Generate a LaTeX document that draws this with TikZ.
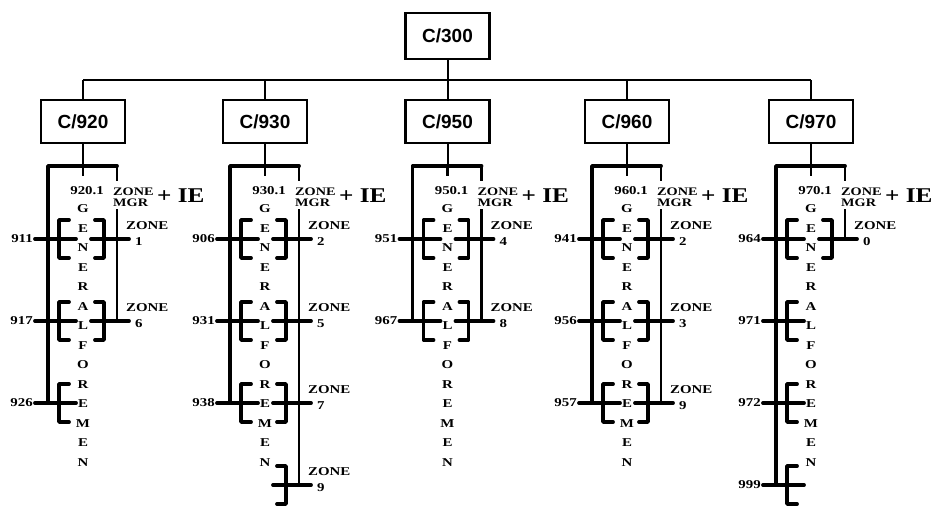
\documentclass[tikz,border=0pt]{standalone}
\usepackage{fontspec}
\setmainfont{Liberation Serif}
\newfontfamily\boxfont{Liberation Sans}
\newfontfamily\lblfont{Liberation Serif}[FakeStretch=1.24]
\newfontfamily\iefont{Liberation Serif}[FakeStretch=1.2]
\tikzset{
  x=1pt, y=-1pt,
  orgbox/.style={draw, line width=2.8pt, minimum width=84pt, minimum height=43pt, inner sep=0pt,
    font=\boxfont\bfseries\fontsize{19}{19}\selectfont},
  busln/.style={line width=2.8pt},
  dropln/.style={line width=2pt},
  heavyln/.style={line width=3.8pt, line cap=round, line join=round},
  thinln/.style={line width=2.4pt},
  lbl/.style={inner sep=0pt, font=\lblfont\bfseries\fontsize{12}{12}\selectfont},
  letr/.style={inner sep=0pt, font=\lblfont\bfseries\fontsize{12}{12}\selectfont},
  ielbl/.style={inner sep=0pt, font=\iefont\bfseries\fontsize{21}{21}\selectfont},
}
% #1 cx, #2 name, #3 left end y, #4 right end y, #5 left rows, #6 right rows
\newcommand\gfcolumn[6]{%
  \coordinate (t#2) at (#1,166);
  \draw[dropln] (c#2.south) -- (t#2);
  \draw[heavyln] (#1-35,#3) -- (#1-35,166) -- (#1+34,166);
  \draw[thinln] (#1+34,166) -- (#1+34,181);
  \draw[thinln] (#1+34,209) -- (#1+34,#4);
  \draw[thinln] (t#2) -- (#1,176);
  \node[lbl, anchor=east] (h#2) at (#1+21,191) {#2.1};
  \node[lbl, anchor=west, align=left, font=\lblfont\bfseries\fontsize{11.5}{11.5}\selectfont] (m#2) at (#1+30,197) {ZONE\\MGR};
  \node[ielbl, anchor=west] (ie#2) at (#1+74,196) {+ IE};
  \foreach \l [count=\i from 0] in {G,E,N,E,R,A,L,F,O,R,E,M,E,N}
    \node[letr] at (#1,209+19.5*\i) {\l};
  \foreach \r/\lab in {#5} {
    \pgfmathsetmacro\yy{239+82*(\r-1)}
    \draw[heavyln] (#1-14,\yy-19) -- (#1-24,\yy-19) -- (#1-24,\yy+19) -- (#1-14,\yy+19);
    \draw[heavyln] (#1-48,\yy) -- (#1-7,\yy);
    \node[lbl, anchor=east] at (#1-50,\yy) {\lab};
  }
  \foreach \r/\z in {#6} {
    \pgfmathsetmacro\yy{239+82*(\r-1)}
    \draw[heavyln] (#1+12,\yy-19) -- (#1+21,\yy-19) -- (#1+21,\yy+19) -- (#1+12,\yy+19);
    \draw[heavyln] (#1+8,\yy) -- (#1+46,\yy);
    \node[lbl, anchor=south west] at (#1+43,\yy-9) {ZONE};
    \node[lbl, anchor=west] at (#1+52,\yy+3) {\z};
  }
}
\begin{document}
\begin{tikzpicture}
\path[use as bounding box] (0,0) rectangle (934,506);
\node[orgbox, minimum height=46pt] (top) at (447.5,36) {C/300};
\node[orgbox] (c920) at (83,121.5) {C/920};
\node[orgbox] (c930) at (265,121.5) {C/930};
\node[orgbox] (c950) at (447.5,121.5) {C/950};
\node[orgbox] (c960) at (627,121.5) {C/960};
\node[orgbox] (c970) at (811,121.5) {C/970};
\coordinate (jtop) at (447.5,80);
\coordinate (j920) at (83,80);
\coordinate (j930) at (265,80);
\coordinate (j950) at (447.5,80);
\coordinate (j960) at (627,80);
\coordinate (j970) at (811,80);
\draw[busln] (j920) -- (j970);
\draw[dropln] (top.south) -- (jtop);
\foreach \n in {920,930,950,960,970}
  \draw[dropln] (j\n) -- (c\n.north);
\gfcolumn{83}{920}{403}{321}{1/911,2/917,3/926}{1/1,2/6}
\gfcolumn{265}{930}{403}{485}{1/906,2/931,3/938}{1/2,2/5,3/7,4/9}
\gfcolumn{447.5}{950}{321}{321}{1/951,2/967}{1/4,2/8}
\gfcolumn{627}{960}{403}{403}{1/941,2/956,3/957}{1/2,2/3,3/9}
\gfcolumn{811}{970}{485}{239}{1/964,2/971,3/972,4/999}{1/0}
\end{tikzpicture}
\end{document}
